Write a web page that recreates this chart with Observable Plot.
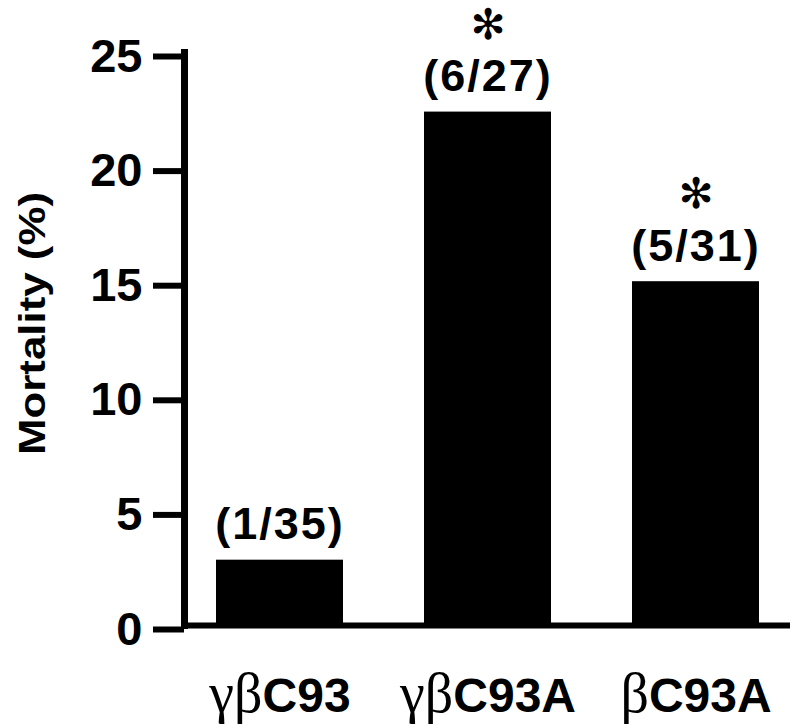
<!DOCTYPE html>
<html><head><meta charset="utf-8">
<script src="https://cdn.jsdelivr.net/npm/d3@7"></script>
<script src="https://cdn.jsdelivr.net/npm/@observablehq/plot@0.6"></script>
<style>body{margin:0;background:#fff} svg{display:block}</style>
</head><body><div id="chart"></div>
<script>
const groups = ["γβC93", "γβC93A", "βC93A"];
const mortality = [2.85, 22.4, 15.0];
const counts = ["(1/35)", "(6/27)", "(5/31)"];
const significance = ["", "✻", "✻"];
const yTicks = [0, 5, 10, 15, 20, 25];
const yLabel = "Mortality (%)";

const data = groups.map((g, i) => ({group: g, value: mortality[i], count: counts[i], sig: significance[i]}));

const chart = Plot.plot({
  width: 797, height: 724,
  marginTop: 52, marginBottom: 99, marginLeft: 184, marginRight: 7,
  style: {fontFamily: "'Liberation Sans', Arial, sans-serif", background: "white", color: "black"},
  x: {domain: groups, paddingInner: 0.391, paddingOuter: 0.1487, label: null},
  y: {domain: [0, 25], label: null},
  marks: [
    Plot.barY(data, {x: "group", y: "value", fill: "black"}),
    Plot.ruleY([0], {strokeWidth: 6}),
    Plot.frame({anchor: "left", strokeWidth: 7, strokeLinecap: "square"}),
    Plot.axisY(yTicks, {tickSize: 31, tickPadding: 11, strokeWidth: 6, fontSize: 47, fontWeight: "bold", dy: 4, label: null}),
    Plot.axisX({tickSize: 0, tickPadding: 52, fontSize: 48, fontWeight: "bold", label: null}),
    Plot.text(data, {x: "group", y: "value", text: "count", dy: -21, lineAnchor: "bottom", fontSize: 45, fontWeight: "bold"}),
    Plot.text(data, {x: "group", y: "value", text: "sig", dy: -87, lineAnchor: "middle", fontSize: 42, fontFamily: "'DejaVu Sans', sans-serif"})
  ]
});

const svg = d3.select(chart);
svg.selectAll('g[aria-label="x-axis tick label"] text').each(function() {
  const t = this.textContent;
  const m = t.match(/^([\u0370-\u03ff]+)(.*)$/);
  if (!m) return;
  const sel = d3.select(this);
  sel.text(null);
  sel.append("tspan").attr("font-family", "'Liberation Serif', serif").attr("font-weight", "normal").attr("font-size", 56).text(m[1]);
  sel.append("tspan").text(m[2]);
});
svg.selectAll('g[aria-label="text"] text').filter(function() { return this.textContent.startsWith("("); })
  .attr("letter-spacing", 2);
svg.append("text")
  .attr("transform", "translate(45,323.5) rotate(-90)")
  .attr("text-anchor", "middle")
  .attr("font-size", 36)
  .attr("font-weight", "bold")
  .attr("textLength", 263)
  .attr("lengthAdjust", "spacingAndGlyphs")
  .text(yLabel);

document.getElementById("chart").appendChild(chart);
</script>
</body></html>
